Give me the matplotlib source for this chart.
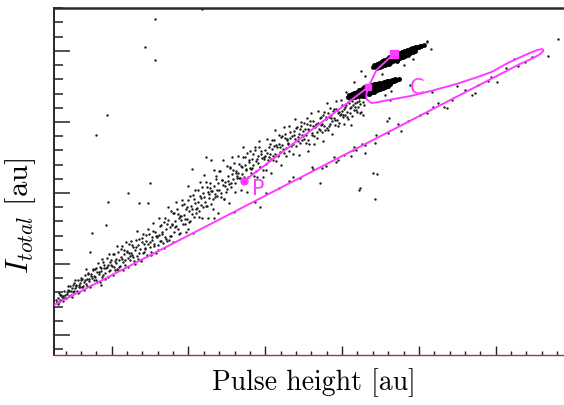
import numpy as np
import matplotlib
matplotlib.use('Agg')
import matplotlib.pyplot as plt
from matplotlib.ticker import MultipleLocator

plt.rcParams['mathtext.fontset'] = 'cm'
plt.rcParams['font.family'] = ['cmr10', 'DejaVu Serif']
plt.rcParams['axes.formatter.use_mathtext'] = True

# ---------------- data (arbitrary units) ----------------
band_points_1 = [
    (14.0, 74.3), (14.8, 71.9), (15.6, 79.2), (16.3, 74.3), (17.1, 78.1), (17.8, 76.5), (18.6, 73.8), (19.3, 80.8), (20.1, 76.1), (20.8, 80.0), (21.5, 84.3),
    (22.2, 77.4), (22.9, 84.6), (23.6, 81.0), (24.3, 77.0), (25.0, 85.0), (25.7, 81.2), (26.4, 88.5), (27.1, 85.3), (27.8, 79.6), (28.5, 85.1), (29.2, 84.1), (29.9, 90.1),
    (30.6, 89.3), (31.3, 84.5), (32.0, 81.8), (32.7, 89.0), (33.4, 96.4), (34.1, 84.6), (34.8, 93.2), (35.5, 89.2), (36.2, 84.0), (36.9, 92.8), (37.6, 96.2), (38.3, 88.8),
    (39.0, 90.5), (39.7, 97.1), (40.4, 87.5), (41.1, 100.5), (41.8, 94.5), (42.5, 87.2), (43.2, 96.9), (43.9, 103.7), (44.6, 92.3), (45.3, 99.3), (46.0, 89.4),
    (46.7, 97.6), (47.4, 90.5), (48.1, 106.9), (48.8, 95.4), (49.5, 103.1), (50.2, 98.8), (50.9, 92.0), (51.6, 106.9), (52.3, 95.8), (53.0, 103.6), (53.7, 112.5), (54.4, 95.7),
    (55.1, 97.8), (55.8, 110.7), (56.5, 103.6), (57.2, 95.6), (57.9, 110.0), (58.6, 102.5), (59.3, 115.6), (60.0, 109.1), (60.7, 98.2), (61.4, 107.9), (62.1, 105.6), (62.8, 116.1),
    (63.5, 113.3), (64.2, 105.1), (64.9, 100.2), (65.6, 111.6), (66.3, 123.2), (67.0, 103.7), (67.7, 117.4), (68.4, 110.6), (69.1, 102.4), (69.8, 115.7), (70.5, 120.8), (71.2, 108.3),
    (71.9, 110.7), (72.6, 120.3), (73.3, 105.9), (74.0, 124.8), (74.7, 115.8), (75.4, 106.2), (76.1, 118.8), (76.8, 129.0), (77.5, 112.3), (78.2, 122.6), (78.9, 108.0),
    (79.6, 119.6), (80.3, 109.8), (81.0, 132.3), (81.7, 116.5), (82.4, 127.2), (83.1, 121.3), (83.8, 111.0), (84.5, 132.4), (85.2, 117.3), (85.9, 128.0), (86.6, 140.1), (87.3, 117.1),
    (88.0, 119.7), (88.7, 137.0), (89.4, 127.6), (90.1, 115.4), (90.8, 136.2), (91.5, 126.3), (92.2, 143.8), (92.9, 135.3), (93.6, 120.9), (94.3, 133.8), (95.0, 130.9), (95.7, 144.9), (96.4, 128.3),
    (97.1, 141.9), (97.8, 131.3), (98.5, 122.6), (99.2, 139.8), (99.9, 155.1), (100.6, 129.7), (101.3, 147.7), (102.0, 138.8), (102.7, 121.8), (103.4, 145.7), (104.1, 152.4), (104.8, 136.1),
    (105.5, 139.6), (106.2, 151.9), (106.9, 133.4), (107.6, 157.7), (108.3, 146.1), (109.0, 132.1), (109.7, 150.2), (110.4, 162.8), (111.1, 140.9), (111.8, 154.0), (112.5, 132.4), (113.2, 149.6), (113.9, 157.2), (114.6, 142.3),
    (115.3, 151.6), (116.0, 138.6), (116.7, 166.2), (117.4, 147.2), (118.1, 159.6), (118.8, 152.4), (119.5, 135.6), (120.2, 165.1), (120.9, 146.8), (121.6, 159.3), (122.3, 173.5), (123.0, 145.7), (123.7, 154.9),
    (124.4, 150.6), (125.1, 168.8), (125.8, 158.7), (126.5, 143.2), (127.2, 167.5), (127.9, 156.9), (128.6, 175.2), (129.3, 166.0), (130.0, 150.6), (130.7, 164.2), (131.4, 160.8), (132.1, 175.7),
    (132.8, 170.4), (133.5, 160.4), (134.2, 152.1), (134.9, 168.3), (135.6, 182.5), (136.3, 158.5), (137.0, 175.3), (137.7, 166.8), (138.4, 150.7), (139.1, 173.1), (139.8, 179.3), (140.5, 164.0),
    (141.2, 167.3), (141.9, 177.6), (142.6, 162.1), (143.3, 182.5), (144.0, 172.7), (144.7, 161.0), (145.4, 176.1), (146.1, 186.6), (146.8, 168.3), (147.5, 179.2), (148.2, 161.2), (148.9, 175.6),
    (149.6, 176.1), (150.3, 166.1), (151.0, 187.7), (151.7, 173.0), (152.4, 182.6), (153.1, 177.1), (153.8, 164.1), (154.5, 187.2), (155.2, 173.0), (155.9, 182.9), (156.6, 194.0), (157.3, 172.5),
    (158.0, 175.7), (158.7, 190.7), (159.4, 182.3), (160.1, 169.7), (160.8, 189.8), (161.5, 181.0), (162.2, 196.2), (162.9, 188.7), (163.6, 176.1), (164.3, 187.4), (165.0, 184.6), (165.7, 196.9),
    (166.4, 192.6), (167.1, 184.4), (167.8, 177.6), (168.5, 190.8), (169.2, 202.4), (169.9, 182.9), (170.6, 196.5), (171.3, 189.7), (172.0, 176.6), (172.7, 194.8), (173.4, 199.9), (174.1, 187.4),
    (174.8, 190.1), (175.5, 198.9), (176.2, 185.5), (176.9, 203.1), (177.6, 194.7), (178.3, 184.5), (179.0, 197.5), (179.7, 206.6), (180.4, 190.8), (181.1, 200.3), (181.8, 184.7), (182.5, 197.0),
    (183.2, 197.5), (183.9, 188.5), (184.6, 207.8), (185.3, 194.6), (186.0, 203.2), (186.7, 198.3), (187.4, 186.7), (188.1, 207.3), (188.8, 194.5), (189.5, 203.3), (190.2, 213.2), (190.9, 194.0),
    (191.6, 196.9), (192.3, 209.8), (193.0, 202.7), (193.7, 191.8), (194.4, 209.1), (195.1, 201.6), (195.8, 214.6), (196.5, 208.1), (197.2, 197.3), (197.9, 207.0), (198.6, 204.6), (199.3, 215.2),
    (200.0, 212.1), (200.7, 204.6), (201.4, 198.5), (202.1, 210.6), (202.8, 221.4), (203.5, 203.5), (204.2, 216.2), (204.9, 209.9), (205.6, 197.9), (206.3, 214.8), (207.0, 219.6), (207.7, 208.1),
    (208.4, 210.6), (209.1, 218.3), (209.8, 207.0), (210.5, 222.0), (211.2, 215.0), (211.9, 206.5), (212.6, 217.6), (213.3, 225.5), (214.0, 212.1),
]

band_points_2 = [
    (14.4, 73.1), (15.2, 75.8), (15.9, 73.2), (16.7, 77.9), (17.4, 74.6), (18.2, 77.7), (18.9, 75.9), (19.7, 78.4), (20.4, 76.0), (21.1, 79.0), (21.9, 81.5),
    (22.5, 80.9), (23.3, 78.4), (24.0, 83.2), (24.6, 80.4), (25.4, 86.3), (26.0, 82.8), (26.8, 84.7), (27.5, 80.9), (28.2, 88.9), (28.9, 83.6), (29.6, 86.6),
    (30.3, 88.4), (31.0, 84.1), (31.7, 87.6), (32.4, 91.9), (33.1, 85.8), (33.8, 89.5), (34.5, 93.8), (35.2, 87.9), (35.9, 84.7), (36.6, 91.5), (37.3, 89.9), (38.0, 95.4),
    (38.7, 91.2), (39.4, 96.3), (40.1, 88.9), (40.8, 94.0), (41.5, 92.7), (42.2, 98.1), (42.9, 95.3), (43.6, 90.6), (44.3, 101.2), (45.0, 96.8), (45.7, 93.5),
    (46.4, 97.1), (47.1, 104.5), (47.8, 99.0), (48.5, 95.2), (49.2, 101.6), (49.9, 99.3), (50.6, 106.9), (51.3, 97.6), (52.0, 102.0), (52.7, 100.4), (53.4, 96.5), (54.1, 108.2),
    (54.8, 102.6), (55.5, 98.7), (56.2, 104.9), (56.9, 112.3), (57.6, 101.4), (58.3, 106.7), (59.0, 99.6), (59.7, 108.4), (60.4, 104.2), (61.1, 113.8), (61.8, 102.9), (62.5, 107.6),
    (63.2, 106.3), (63.9, 111.7), (64.6, 101.9), (65.3, 109.5), (66.0, 117.2), (66.7, 105.8), (67.4, 113.4), (68.1, 107.9), (68.8, 103.1), (69.5, 118.6), (70.2, 108.0), (70.9, 113.9),
    (71.6, 110.9), (72.3, 116.2), (73.0, 106.0), (73.7, 113.8), (74.4, 121.4), (75.1, 111.6), (75.8, 108.1), (76.5, 116.7), (77.2, 123.5), (77.9, 114.2), (78.6, 119.8),
    (79.3, 118.7), (80.0, 113.0), (80.7, 120.1), (81.4, 126.9), (82.1, 116.2), (82.8, 122.3), (83.5, 114.9), (84.2, 129.6), (84.9, 119.3), (85.6, 124.8), (86.3, 116.5), (87.0, 131.2),
    (87.7, 125.9), (88.4, 119.7), (89.1, 128.4), (89.8, 135.7), (90.5, 122.3), (91.2, 130.1), (91.9, 127.0), (92.6, 138.9), (93.3, 124.5), (94.0, 132.2), (94.7, 121.9), (95.4, 133.5), (96.1, 141.4),
    (96.8, 134.6), (97.5, 128.0), (98.2, 138.9), (98.9, 131.3), (99.6, 144.8), (100.3, 137.6), (101.0, 130.2), (101.7, 141.0), (102.4, 135.4), (103.1, 148.3), (103.8, 133.0), (104.5, 142.7), (105.2, 138.4),
    (105.9, 143.9), (106.6, 137.1), (107.3, 148.0), (108.0, 141.5), (108.7, 154.2), (109.4, 139.8), (110.1, 147.0), (110.8, 143.3), (111.5, 157.9), (112.2, 141.1), (112.9, 150.7), (113.6, 146.2), (114.3, 153.6),
    (115.0, 151.2), (115.7, 145.7), (116.4, 155.0), (117.1, 149.3), (117.8, 162.0), (118.5, 147.8), (119.2, 157.1), (119.9, 152.4), (120.6, 165.3), (121.3, 149.9), (122.0, 159.0), (122.7, 155.6), (123.4, 145.9),
    (124.1, 158.0), (124.8, 152.9), (125.5, 161.8), (126.2, 156.3), (126.9, 168.4), (127.6, 154.0), (128.3, 163.2), (129.0, 159.5), (129.7, 171.1), (130.4, 156.8), (131.1, 165.3), (131.8, 161.6),
    (132.5, 164.0), (133.2, 160.2), (133.9, 168.7), (134.6, 163.5), (135.3, 175.0), (136.0, 161.4), (136.7, 169.8), (137.4, 166.0), (138.1, 178.1), (138.8, 160.9), (139.5, 172.0), (140.2, 167.4),
    (140.9, 166.8), (141.6, 173.6), (142.3, 169.9), (143.0, 180.2), (143.7, 165.7), (144.4, 174.0), (145.1, 171.2), (145.8, 182.4), (146.5, 168.6), (147.2, 177.7), (147.9, 174.8), (148.6, 166.4),
    (149.3, 173.6), (150.0, 180.1), (150.7, 170.4), (151.4, 178.4), (152.1, 175.1), (152.8, 184.3), (153.5, 173.9), (154.2, 180.9), (154.9, 176.2), (155.6, 187.1), (156.3, 177.6), (157.0, 184.0),
    (157.7, 182.1), (158.4, 176.8), (159.1, 184.2), (159.8, 179.1), (160.5, 189.4), (161.2, 183.6), (161.9, 178.1), (162.6, 191.2), (163.3, 181.7), (164.0, 187.9), (164.7, 185.2), (165.4, 179.5),
    (166.1, 188.6), (166.8, 183.0), (167.5, 190.1), (168.2, 184.6), (168.9, 193.4), (169.6, 188.1), (170.3, 195.5), (171.0, 186.9), (171.7, 191.6), (172.4, 185.1), (173.1, 197.0), (173.8, 190.8),
    (174.5, 193.3), (175.2, 188.1), (175.9, 195.0), (176.6, 190.7), (177.3, 198.4), (178.0, 187.6), (178.7, 194.3), (179.4, 200.9), (180.1, 192.1), (180.8, 197.0), (181.5, 190.4), (182.2, 196.6),
    (182.9, 198.3), (183.6, 193.0), (184.3, 199.5), (185.0, 194.9), (185.7, 203.0), (186.4, 198.1), (187.1, 192.7), (187.8, 204.6), (188.5, 197.3), (189.2, 201.9), (189.9, 195.5), (190.6, 206.0),
    (191.3, 203.4), (192.0, 198.2), (192.7, 204.6), (193.4, 200.8), (194.1, 208.0), (194.8, 202.9), (195.5, 197.5), (196.2, 209.4), (196.9, 201.6), (197.6, 206.4), (198.3, 199.3), (199.0, 205.7),
    (199.7, 207.9), (200.4, 203.5), (201.1, 209.0), (201.8, 205.2), (202.5, 211.7), (203.2, 207.3), (203.9, 202.1), (204.6, 213.2), (205.3, 206.0), (206.0, 210.5), (206.7, 204.4), (207.4, 212.0),
    (208.1, 213.4), (208.8, 208.1), (209.5, 214.3), (210.2, 210.2), (210.9, 216.5), (211.6, 212.4), (212.3, 207.0), (213.0, 217.3), (213.7, 213.8),
]

cluster_a = [
    (204.0, 217.6), (204.5, 219.0), (205.6, 218.2), (206.1, 216.9), (206.6, 219.5),
    (207.3, 218.9), (207.8, 220.6), (208.2, 217.5), (208.9, 219.5), (209.4, 221.3), (209.9, 218.0), (210.3, 220.9),
    (210.6, 220.1), (211.0, 222.4), (211.5, 218.6), (212.0, 221.5), (212.2, 220.7), (212.7, 223.2), (213.1, 219.0), (213.6, 221.9), (214.0, 218.3),
    (213.9, 221.4), (214.4, 224.0), (214.8, 219.6), (215.3, 222.7), (215.7, 225.1), (215.5, 222.0), (216.0, 224.6), (216.4, 220.1), (216.9, 223.3), (217.3, 219.4),
    (217.2, 222.6), (217.6, 225.3), (218.1, 220.7), (218.5, 223.9), (219.0, 226.2), (218.8, 223.3), (219.3, 225.9), (219.7, 221.3), (220.2, 224.5), (220.6, 221.0),
    (220.5, 223.9), (220.9, 226.4), (221.4, 222.0), (221.8, 225.1), (222.3, 227.0), (222.1, 224.5), (222.6, 226.8), (223.0, 222.6), (223.5, 225.6), (223.9, 223.0),
    (223.7, 225.2), (224.2, 227.3), (224.6, 223.4), (225.1, 226.1), (225.4, 225.8), (225.8, 227.7), (226.3, 224.1), (226.7, 226.6),
    (227.0, 226.4), (227.5, 228.1), (227.9, 224.9), (228.4, 227.1), (228.7, 227.0), (229.1, 228.5), (229.6, 225.6),
    (230.3, 227.7), (230.8, 228.9), (231.2, 226.4), (232.0, 228.3), (232.5, 229.4), (233.6, 228.9), (234.1, 229.9), (235.3, 229.6), (236.9, 230.2),
]

cluster_b = [
    (220.4, 238.7), (221.0, 240.1), (222.0, 239.5), (222.5, 238.2), (223.0, 240.6),
    (223.7, 240.2), (224.2, 241.8), (224.6, 238.9), (225.3, 241.0), (225.8, 242.6), (226.2, 239.6), (226.7, 241.9),
    (227.0, 241.8), (227.4, 243.7), (227.9, 240.3), (228.3, 242.8), (228.6, 242.6), (229.1, 244.6), (229.5, 241.0), (230.0, 243.5), (230.4, 240.6),
    (230.3, 243.3), (230.7, 245.4), (231.2, 241.8), (231.6, 244.2), (232.1, 246.0), (231.9, 244.1), (232.4, 246.1), (232.8, 242.6), (233.3, 245.0),
    (233.6, 244.9), (234.0, 246.9), (234.5, 243.4), (234.9, 245.7), (235.4, 242.9), (235.2, 245.7), (235.7, 247.6), (236.1, 244.2), (236.6, 246.5),
    (236.9, 246.5), (237.3, 248.4), (237.8, 245.0), (238.2, 247.2), (238.7, 249.0), (238.5, 247.2), (239.0, 249.1), (239.4, 245.8), (239.9, 248.0),
    (240.1, 248.0), (240.6, 249.8), (241.0, 246.6), (241.5, 248.7), (241.8, 248.8), (242.2, 250.5), (242.7, 247.4), (243.1, 249.4),
    (243.4, 249.6), (243.9, 251.2), (244.3, 248.3), (245.1, 250.3), (245.5, 251.8), (246.0, 249.1),
    (246.7, 251.1), (247.2, 252.4), (247.6, 249.9), (248.4, 251.9), (248.8, 253.0), (250.0, 252.7), (250.5, 253.6), (251.6, 253.4), (253.3, 254.2),
]

lower_branch_points = [
    (150.3, 150.1), (158.9, 153.4), (165.2, 158.5), (172.4, 160.8), (181.0, 167.2), (186.6, 167.9),
    (194.5, 175.1), (201.2, 176.6), (207.9, 182.3), (214.6, 184.0), (222.0, 190.5), (229.7, 192.0),
    (236.3, 198.6), (243.0, 200.9), (250.8, 205.2), (262.1, 213.0), (271.4, 215.6), (279.7, 222.4),
    (288.6, 226.3), (297.1, 231.8), (306.4, 238.2), (311.9, 244.5), (323.6, 245.9),
]

outlier_points = [
    (78.3, 272.5), (71.7, 252.8), (78.3, 243.6), (46.7, 204.9), (40.1, 190.8), (108.6, 279.5),
    (75.0, 157.0), (60.5, 150.0), (111.2, 175.3), (114.5, 173.2), (102.6, 166.9),
    (37.5, 121.8), (46.1, 127.4), (36.2, 108.4), (67.8, 142.9), (73.7, 142.9), (47.4, 143.6),
    (42.8, 85.2), (28.9, 80.3), (100.0, 124.6),
    (340.8, 258.4), (346.8, 254.9), (334.3, 246.4), (319.1, 242.2), (314.5, 239.4), (300.7, 228.1),
    (294.8, 228.8), (286.2, 220.4), (284.3, 219.0), (268.5, 209.8), (266.5, 210.5), (259.3, 210.5),
    (255.3, 206.3), (238.2, 193.6), (229.0, 200.7), (230.3, 202.8), (213.8, 204.9), (222.4, 163.3),
    (211.2, 152.1), (221.1, 145.7), (213.2, 184.5), (221.1, 185.2), (215.2, 178.1), (207.3, 180.2),
    (206.0, 176.0), (196.1, 171.8), (189.5, 169.0), (180.3, 168.3), (185.6, 157.0), (177.7, 179.5),
    (167.8, 161.2), (235.6, 229.5), (255.3, 256.3), (231.0, 215.4), (258.6, 221.1), (275.0, 225.3),
    (197.4, 173.2), (209.2, 180.2), (220.4, 164.0), (211.9, 153.5), (143.4, 143.6), (146.7, 140.1),
    (129.6, 136.6), (116.5, 132.4),
    (212.0, 236.0), (215.0, 232.0), (226.0, 234.0), (208.0, 228.0), (240.0, 240.0), (246.0, 244.0),
    (255.0, 257.0), (258.0, 251.0), (228.0, 219.0), (232.0, 222.0), (244.0, 226.0),
]

# trajectory (magenta curve)
traj_x = [12.5, 315.8, 324.4, 329.0, 331.0, 330.3, 327.0, 319.1, 307.9, 297.4, 286.2, 274.4,
          257.9, 244.8, 233.6, 223.7, 219.1, 215.8, 215.8, 217.1, 222.4, 233.6]
traj_y = [71.1, 240.8, 245.0, 247.8, 250.0, 251.3, 250.6, 247.1, 241.5, 235.2, 230.9, 226.7,
          221.8, 218.3, 216.1, 214.0, 213.3, 216.1, 219.7, 224.6, 236.6, 247.8]
p_line_x = [136.2, 217.1]
p_line_y = [158.4, 224.6]

marker_p = (136.2, 158.4)
marker_mid = (217.1, 224.6)
marker_top = (233.6, 247.8)
label_p = (145.4, 152.8)
label_c = (248.7, 224.2)

# ---------------- figure ----------------
W, H = 564, 405
fig = plt.figure(figsize=(W / 100, H / 100), dpi=100)
ax = fig.add_axes([54 / W, (H - 355) / H, (W - 54) / W + 0.01, (355 - 8) / H])

mag = '#ff3cff'
dot = '#1a1a1a'

band = np.array(band_points_1 + band_points_2)
ca = np.array(cluster_a)
cb = np.array(cluster_b)
lb = np.array(lower_branch_points)
ol = np.array(outlier_points)

ax.scatter(band[:, 0], band[:, 1], s=3.0, c=dot, linewidths=0, zorder=2)
ax.scatter(lb[:, 0], lb[:, 1], s=3.0, c=dot, linewidths=0, zorder=2)
ax.scatter(ol[:, 0], ol[:, 1], s=3.0, c=dot, linewidths=0, zorder=2)
ax.scatter(ca[:, 0], ca[:, 1], s=13, c='#000000', linewidths=0, zorder=2)
ax.scatter(cb[:, 0], cb[:, 1], s=12, c='#000000', linewidths=0, zorder=2)

ax.plot(traj_x, traj_y, color=mag, lw=1.4, zorder=3, solid_joinstyle='round')
ax.plot(p_line_x, p_line_y, color=mag, lw=1.4, zorder=3)
ax.plot(*marker_p, marker='o', ms=5, color=mag, zorder=4)
ax.plot(*marker_mid, marker='s', ms=5, color=mag, zorder=4)
ax.plot(*marker_top, marker='s', ms=5.5, color=mag, zorder=4)
ax.text(*label_p, 'P', color=mag, fontsize=15, family='DejaVu Sans', ha='center', va='center', zorder=5)
ax.text(*label_c, 'C', color=mag, fontsize=15, family='DejaVu Sans', ha='center', va='center', zorder=5)

ax.set_xlim(12.5, 12.5 + (W - 54) * 0.658)
ax.set_ylim(35.9, 280.2)

ax.xaxis.set_major_locator(MultipleLocator(50))
ax.xaxis.set_minor_locator(MultipleLocator(10))
ax.yaxis.set_major_locator(MultipleLocator(50))
ax.yaxis.set_minor_locator(MultipleLocator(10))
ax.tick_params(axis='x', which='major', direction='in', length=6.5, width=1.0, color='#222222',
               labelbottom=False, top=False)
ax.tick_params(axis='x', which='minor', direction='in', length=3.2, width=1.0, color='#222222', top=False)
ax.tick_params(axis='y', which='major', direction='in', length=11.5, width=1.1, color='#222222',
               labelleft=False, right=False)
ax.tick_params(axis='y', which='minor', direction='in', length=6.5, width=1.1, color='#222222', right=False)

ax.spines['right'].set_visible(False)
ax.spines['top'].set_color('#2a2a2a')
ax.spines['top'].set_linewidth(1.8)
ax.spines['left'].set_color('#2a2a2a')
ax.spines['left'].set_linewidth(1.4)
ax.spines['bottom'].set_color('#a03a3a')
ax.spines['bottom'].set_linewidth(1.0)

ax.text((311 - 54) / 510, (355 - 383) / 347, 'Pulse height [au]', transform=ax.transAxes,
        ha='center', va='center', fontsize=20)
ax.text((21 - 54) / 510, (355 - 216) / 347, r'$I_{total}$ [au]', transform=ax.transAxes,
        ha='center', va='center', fontsize=22, rotation=90)

fig.savefig('out.png', dpi=100)
